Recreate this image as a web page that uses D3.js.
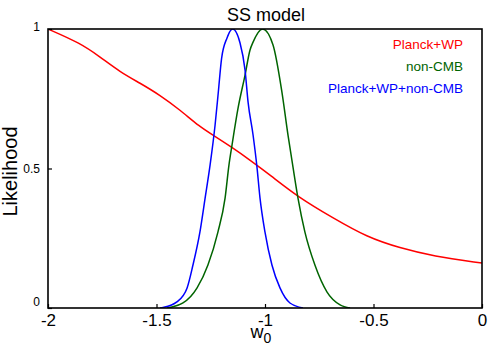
<!DOCTYPE html>
<html>
<head>
<meta charset="utf-8">
<script src="https://cdn.jsdelivr.net/npm/d3@7"></script>
<style>
  body { margin: 0; background: #fff; }
  svg { font-family: "Liberation Sans", Arial, sans-serif; }
</style>
</head>
<body>
<div id="chart"></div>
<script>
// Planck+WP likelihood vs w0
const redX = [-2, -1.853, -1.76, -1.668, -1.576, -1.484, -1.392, -1.3, -1.24, -1.147, -1.069, -0.977, -0.848, -0.687, -0.53, -0.378, -0.226, 0];
const redY = [1, 0.95, 0.9, 0.846, 0.806, 0.763, 0.71, 0.649, 0.62, 0.573, 0.53, 0.477, 0.398, 0.323, 0.254, 0.215, 0.186, 0.161];

// non-CMB
const greenX = [-1.452, -1.378, -1.313, -1.263, -1.217, -1.184, -1.166, -1.152, -1.124, -1.092, -1.069, -1.055, -1.011, -0.963, -0.922, -0.894, -0.871, -0.848, -0.816, -0.77, -0.714, -0.654, -0.608];
const greenY = [0, 0.018, 0.072, 0.154, 0.272, 0.394, 0.513, 0.584, 0.717, 0.835, 0.925, 0.953, 1, 0.943, 0.774, 0.62, 0.505, 0.394, 0.272, 0.154, 0.057, 0.011, 0];

// Planck+WP+non-CMB
const blueX = [-1.484, -1.47, -1.406, -1.359, -1.332, -1.3, -1.276, -1.253, -1.23, -1.215, -1.2, -1.175, -1.149, -1.115, -1.092, -1.078, -1.055, -1.037, -1.023, -1, -0.968, -0.931, -0.885, -0.825];
const blueY = [0, 0.002, 0.022, 0.072, 0.154, 0.272, 0.394, 0.513, 0.656, 0.775, 0.895, 0.968, 1, 0.95, 0.853, 0.738, 0.62, 0.505, 0.394, 0.272, 0.154, 0.072, 0.018, 0];

const xTicks = [-2, -1.5, -1, -0.5, 0];
const yTicks = [0, 0.5, 1];
const legendNames = ['Planck+WP', 'non-CMB', 'Planck+WP+non-CMB'];

const series = [
  { name: legendNames[0], color: '#ff0000', xs: redX, ys: redY, curve: d3.curveBasis },
  { name: legendNames[1], color: '#006400', xs: greenX, ys: greenY, curve: d3.curveMonotoneX },
  { name: legendNames[2], color: '#0000ff', xs: blueX, ys: blueY, curve: d3.curveMonotoneX },
];

const width = 500, height = 350;
const margin = { top: 29, right: 18, bottom: 42, left: 48 };
const w = width - margin.left - margin.right;
const h = height - margin.top - margin.bottom;

const svg = d3.select('#chart').append('svg')
  .attr('width', width).attr('height', height);

const g = svg.append('g').attr('transform', `translate(${margin.left},${margin.top})`);

const x = d3.scaleLinear().domain([-2, 0]).range([0, w]);
const y = d3.scaleLinear().domain([0, 1]).range([h, 0]);

g.append('defs').append('clipPath').attr('id', 'clip')
  .append('rect').attr('width', w).attr('height', h);

// curves
series.forEach((s) => {
  const line = d3.line()
    .x((d) => x(d[0]))
    .y((d) => y(d[1]))
    .curve(s.curve);
  g.append('path')
    .datum(s.xs.map((v, i) => [v, s.ys[i]]))
    .attr('clip-path', 'url(#clip)')
    .attr('fill', 'none')
    .attr('stroke', s.color)
    .attr('stroke-width', 1.5)
    .attr('d', line);
});

// frame
g.append('rect')
  .attr('width', w).attr('height', h)
  .attr('fill', 'none').attr('stroke', '#000').attr('stroke-width', 1.6);

// x axis, inward ticks
const xAxis = g.append('g').attr('transform', `translate(0,${h})`)
  .call(d3.axisBottom(x).tickValues(xTicks).tickSize(-4).tickPadding(6)
    .tickFormat((d) => String(d)));
xAxis.select('.domain').remove();
xAxis.selectAll('line').attr('stroke-width', 1.2);
xAxis.selectAll('text').attr('font-size', 17).attr('fill', '#000')
  .attr('font-family', '"Liberation Sans", Arial, sans-serif');

// y axis, inward ticks
const yAxis = g.append('g')
  .call(d3.axisLeft(y).tickValues(yTicks).tickSize(-4).tickPadding(8)
    .tickFormat((d) => String(d)));
yAxis.select('.domain').remove();
yAxis.selectAll('line').attr('stroke-width', 1.2);
yAxis.selectAll('text').attr('font-size', 12).attr('fill', '#000')
  .attr('font-family', '"Liberation Sans", Arial, sans-serif')
  .attr('dy', (d) => (d === 0 ? '-0.2em' : (d === 1 ? '0.1em' : '0.32em')));

// title
svg.append('text')
  .attr('x', margin.left + w / 2 + 1).attr('y', 21)
  .attr('text-anchor', 'middle').attr('font-size', 18)
  .text('SS model');

// axis labels
const xl = svg.append('text')
  .attr('x', margin.left + w / 2 - 4).attr('y', 338)
  .attr('text-anchor', 'middle').attr('font-size', 18);
xl.append('tspan').text('w');
xl.append('tspan').attr('font-size', 14).attr('dy', 5).text('0');

svg.append('text')
  .attr('transform', `translate(17,${margin.top + h / 2 + 3}) rotate(-90)`)
  .attr('text-anchor', 'middle').attr('font-size', 20)
  .text('Likelihood');

// legend
const legend = svg.append('g');
series.forEach((s, i) => {
  legend.append('text')
    .attr('x', 463).attr('y', 49 + i * 22)
    .attr('text-anchor', 'end').attr('font-size', 13.5)
    .attr('fill', s.color)
    .text(s.name);
});
</script>
</body>
</html>
